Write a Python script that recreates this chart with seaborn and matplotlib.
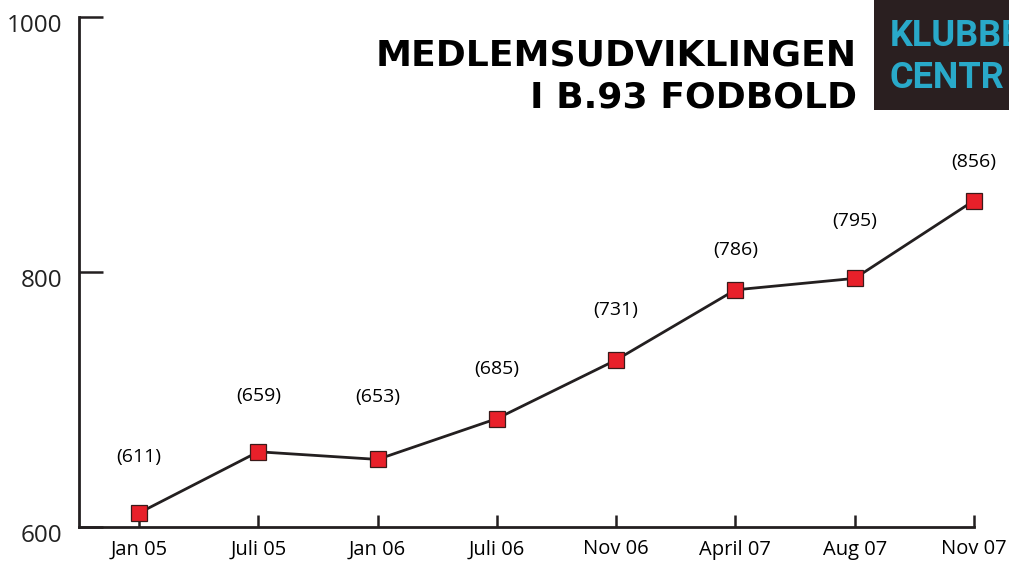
import matplotlib
matplotlib.use("Agg")
import matplotlib.pyplot as plt
import matplotlib.transforms as mtrans
import seaborn as sns
import pandas as pd
from matplotlib.patches import Rectangle

periods = ["Jan 05", "Juli 05", "Jan 06", "Juli 06", "Nov 06", "April 07", "Aug 07", "Nov 07"]
members = [611, 659, 653, 685, 731, 786, 795, 856]
y_ticks = [600, 800, 1000]
title_lines = ["MEDLEMSUDVIKLINGEN", "I B.93 FODBOLD"]
logo_lines = ["KLUBBE", "CENTR"]

# layout: vertical offset of each value label above its marker (points)
label_offsets = [40, 40, 45, 36, 36, 29, 41, 28]

sns.set_theme(style="white")
plt.rcParams["font.family"] = ["Open Sans", "DejaVu Sans"]

W, H = 1009, 561
fig = plt.figure(figsize=(W / 100, H / 100), dpi=100)
ax = fig.add_axes([79 / W, (H - 527) / H, (974 - 79) / W, (527 - 17) / H])

df = pd.DataFrame({"idx": range(len(periods)), "members": members})
dark = "#231F20"
sns.lineplot(data=df, x="idx", y="members", ax=ax, color=dark, linewidth=2.0,
             marker="s", markersize=11, markerfacecolor="#E8202A",
             markeredgecolor="#3a1a1a", markeredgewidth=0.9)
for ln in ax.lines:
    ln.set_clip_on(False)
    ln.set_zorder(5)

ax.set_xlim(-0.503, len(periods) - 1)
ax.set_ylim(600, 1000)
ax.set_xticks(range(len(periods)))
ax.set_xticklabels(periods, fontsize=14.5, color="black")
ax.set_yticks(y_ticks)
ax.set_yticklabels([str(v) for v in y_ticks], fontsize=17.5, color="#222222")
ax.set_xlabel("")
ax.set_ylabel("")

for s in ["top", "right"]:
    ax.spines[s].set_visible(False)
for s in ["left", "bottom"]:
    ax.spines[s].set_color(dark)
    ax.spines[s].set_linewidth(2.0)

ax.tick_params(axis="y", direction="in", length=17, width=1.8, color=dark, pad=12, left=True)
ax.tick_params(axis="x", direction="in", length=9, width=1.8, color=dark, pad=9, bottom=True)
ax.grid(False)
ax.set_facecolor("white")

shift = mtrans.ScaledTranslation(0, -6 / 100, fig.dpi_scale_trans)
for lab in ax.get_yticklabels():
    lab.set_transform(lab.get_transform() + shift)

for i, v in enumerate(members):
    ax.annotate(f"({v})", xy=(i, v), xytext=(0, label_offsets[i]), textcoords="offset points",
                ha="center", va="center", fontsize=14, color="black")

# Title
for k, line in enumerate(title_lines):
    fig.text(857 / W, 1 - (56 + 41 * k) / H, line, ha="right", va="center",
             fontsize=26, fontweight="bold", color="black",
             family=["DejaVu Sans"])

# Logo box (cropped)
lax = fig.add_axes([874 / W, 1 - 110 / H, (W - 874) / W, 110 / H])
lax.set_xlim(0, 1)
lax.set_ylim(0, 1)
lax.axis("off")
lax.add_patch(Rectangle((0, 0), 1, 1, facecolor="#2a1f20", edgecolor="none",
                        transform=lax.transAxes))
for k, line in enumerate(logo_lines):
    t = lax.text(0.115, 0.67 - 0.38 * k, line, ha="left", va="center",
                 fontsize=26, fontweight="bold", color="#29a9c9",
                 family=["Roboto", "DejaVu Sans"],
                 transform=lax.transAxes)
    t.set_clip_on(True)

fig.savefig("out.png", dpi=100, facecolor="white")
